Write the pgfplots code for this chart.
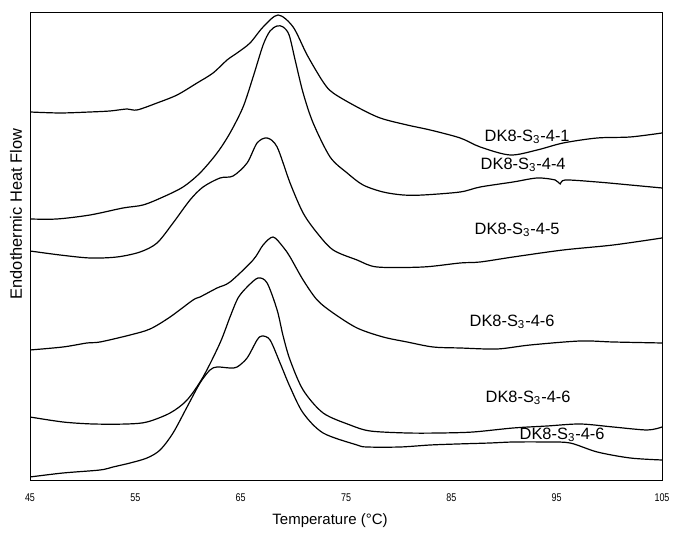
\documentclass[border=0pt]{standalone}
\usepackage{fontspec}
\setmainfont{Liberation Sans}
\usepackage{pgfplots}
\pgfplotsset{compat=1.18}
\begin{document}
\begin{tikzpicture}[curve/.style={black, line width=0.6pt, smooth, tension=0.5, mark=none}]
\useasboundingbox (0pt,0pt) rectangle (336.5pt,266.5pt);
\begin{axis}[
  at={(15pt,26pt)}, anchor=south west,
  scale only axis, width=316pt, height=234pt,
  xmin=45, xmax=105, ymin=0, ymax=468,
  axis line style={line width=0.5pt},
  xtick={45,55,...,105}, ytick=\empty,
  major tick length=0pt,
  /pgf/number format/assume math mode=true,
  xticklabel={\scalebox{0.8}[1]{\pgfmathprintnumber{\tick}}},
  xticklabel style={font=\fontsize{5.6}{6}\selectfont, anchor=center, yshift=-8.5pt},
  xlabel={Temperature (°C)},
  ylabel={Endothermic Heat Flow},
  every axis x label/.style={at={(rel axis cs:0.4747,-0.0855)}, anchor=center, font=\fontsize{7.5}{9}\selectfont},
  every axis y label/.style={at={(rel axis cs:-0.0222,0.5705)}, anchor=center, rotate=90, font=\fontsize{8.2}{10}\selectfont},
]
% DK8-S3-4-1
\addplot[curve] coordinates {(45.00,369) (47.85,368) (50.70,369) (52.60,370) (54.21,372) (55.16,371) (57.06,378) (58.96,386) (60.86,398) (62.38,408) (63.71,421) (64.66,428) (65.89,438) (67.13,454) (68.55,466) (69.98,454) (71.31,426) (72.83,399) (73.78,388) (76.05,374) (78.24,363) (80.80,356) (82.99,351) (85.84,343) (87.74,334) (90.58,326) (93.15,331) (95.62,338) (98.85,343) (101.98,344) (105.00,348)};
% DK8-S3-4-4
\addplot[curve] coordinates {(45.00,262) (47.56,262) (50.70,266) (53.83,273) (55.73,276) (57.63,284) (59.53,294) (61.14,308) (62.76,328) (63.99,348) (65.23,374) (66.18,404) (67.13,436) (67.79,450) (68.46,455) (69.03,454) (69.60,446) (70.17,421) (70.93,388) (71.88,358) (73.49,324) (75.11,308) (76.62,296) (78.52,289) (80.42,286) (82.32,286) (85.84,289) (87.74,294) (90.87,299) (93.15,303) (94.86,301) (95.33,297) (95.81,301) (98.85,299) (101.98,296) (105.00,293)};
% DK8-S3-4-5
\addplot[curve] coordinates {(45.00,230) (47.85,226) (50.70,223) (53.26,224) (55.45,229) (57.06,238) (58.58,258) (60.19,281) (61.43,294) (63.04,303) (64.28,305) (65.61,318) (66.56,338) (67.51,343) (68.46,334) (69.69,298) (70.93,268) (72.26,248) (73.78,231) (76.05,221) (77.95,214) (82.32,214) (85.84,218) (87.74,219) (90.87,224) (95.62,231) (100.37,236) (105.00,243)};
% DK8-S3-4-6 (a)
\addplot[curve] coordinates {(45.00,131) (48.13,134) (50.41,138) (51.65,139) (54.50,146) (56.40,152) (58.30,164) (60.48,181) (61.14,184) (62.76,193) (63.99,199) (66.18,221) (67.13,236) (68.08,244) (69.03,234) (69.69,224) (70.93,201) (72.26,181) (73.78,168) (76.05,153) (78.52,144) (80.80,139) (83.27,134) (85.84,133) (89.35,132) (92.48,136) (97.23,140) (100.37,139) (105.00,138)};
% DK8-S3-4-6 (b)
\addplot[curve] coordinates {(45.00,64) (48.13,59) (50.98,57) (54.21,57) (56.11,59) (58.30,68) (59.91,81) (61.43,104) (63.04,138) (63.99,164) (64.75,183) (65.61,194) (66.65,203) (67.51,198) (68.46,171) (69.03,145) (69.69,121) (70.93,91) (72.83,68) (75.39,56) (77.29,50) (80.80,48) (83.94,48) (87.07,49) (90.87,53) (94.10,55) (97.23,57) (100.37,54) (103.60,51) (105.00,54)};
% DK8-S3-4-6 (c)
\addplot[curve] coordinates {(45.00,4) (48.13,8) (51.65,11) (52.88,14) (54.50,18) (56.11,23) (57.35,31) (58.58,48) (59.91,74) (61.14,98) (62.09,111) (62.76,114) (63.99,113) (64.66,114) (65.61,123) (66.56,141) (67.03,145) (67.79,141) (68.74,118) (69.69,94) (70.93,68) (72.83,48) (76.05,36) (77.00,34) (80.14,34) (82.99,36) (85.55,37) (88.69,38) (90.87,39) (94.10,39) (96.28,38) (98.85,29) (101.98,23) (105.00,21)};

\node[font=\fontsize{8.2}{10}\selectfont] at (axis cs:92.20,344) {DK8-S\textsubscript{3}-4-1};
\node[font=\fontsize{8.2}{10}\selectfont] at (axis cs:91.82,316) {DK8-S\textsubscript{3}-4-4};
\node[font=\fontsize{8.2}{10}\selectfont] at (axis cs:91.25,251) {DK8-S\textsubscript{3}-4-5};
\node[font=\fontsize{8.2}{10}\selectfont] at (axis cs:90.77,159) {DK8-S\textsubscript{3}-4-6};
\node[font=\fontsize{8.2}{10}\selectfont] at (axis cs:92.29,83) {DK8-S\textsubscript{3}-4-6};
\node[font=\fontsize{8.2}{10}\selectfont] at (axis cs:95.52,46) {DK8-S\textsubscript{3}-4-6};
\end{axis}
\end{tikzpicture}
\end{document}
